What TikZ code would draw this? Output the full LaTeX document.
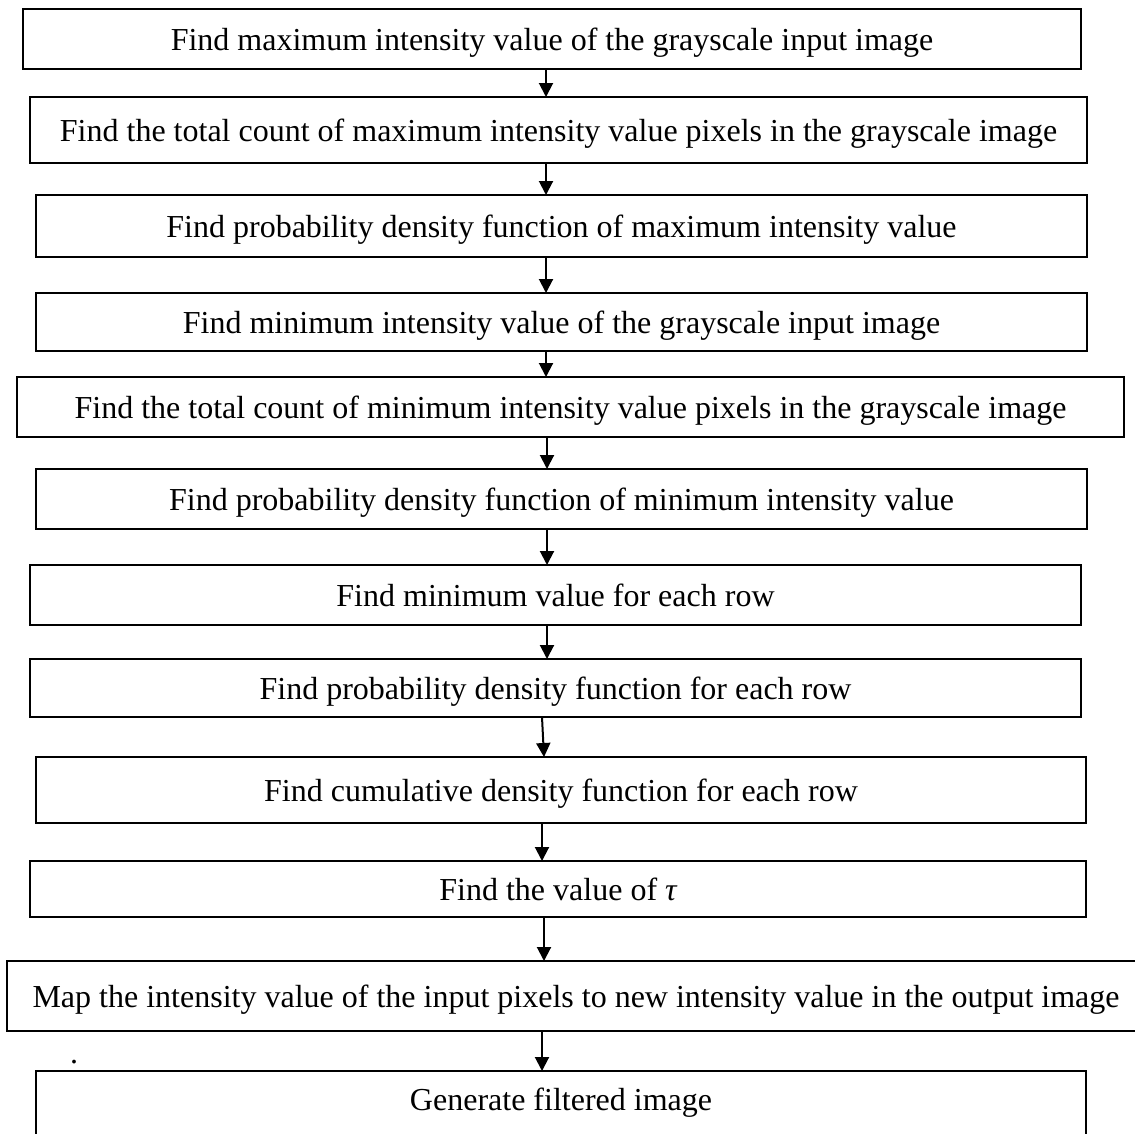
\documentclass[tikz,border=0pt]{standalone}
\usepackage{fontspec}
\setmainfont{Liberation Serif}
\usetikzlibrary{arrows.meta}
\begin{document}
\begin{tikzpicture}[x=1pt,y=-1pt,
  box/.style={draw, line width=2.2pt, inner sep=0pt, outer sep=0pt, rectangle,
    text height=22pt, text depth=0pt, font=\fontsize{32}{38}\selectfont},
  arr/.style={line width=2pt, -{Triangle[width=14pt,length=14pt]}}]
\useasboundingbox (0,0) rectangle (1135,1133);
\clip (0,0) rectangle (1135,1133);
\fill[white] (0,0) rectangle (1135,1133);
\node[box, minimum width=1058pt, minimum height=60pt] (n1) at (552,39) {Find maximum intensity value of the grayscale input image};
\node[box, minimum width=1057pt, minimum height=66pt] (n2) at (558.5,130) {Find the total count of maximum intensity value pixels in the grayscale image};
\node[box, minimum width=1051pt, minimum height=62pt] (n3) at (561.5,226) {Find probability density function of maximum intensity value};
\node[box, minimum width=1051pt, minimum height=58pt] (n4) at (561.5,322) {Find minimum intensity value of the grayscale input image};
\node[box, minimum width=1107pt, minimum height=60pt] (n5) at (570.5,407) {Find the total count of minimum intensity value pixels in the grayscale image};
\node[box, minimum width=1051pt, minimum height=60pt] (n6) at (561.5,499) {Find probability density function of minimum intensity value};
\node[box, minimum width=1051pt, minimum height=60pt] (n7) at (555.5,595) {Find minimum value for each row};
\node[box, minimum width=1051pt, minimum height=58pt] (n8) at (555.5,688) {Find probability density function for each row};
\node[box, minimum width=1050pt, minimum height=66pt] (n9) at (561,790) {Find cumulative density function for each row};
\node[box, minimum width=1056pt, minimum height=56pt] (n10) at (558,889) {Find the value of {\itshape τ}};
\node[box, minimum width=1138pt, minimum height=70pt] (n11) at (576,996) {Map the intensity value of the input pixels to new intensity value in the output image};
\node[box, minimum width=1050pt, minimum height=74pt, text depth=18pt] (n12) at (561,1108) {Generate filtered image};
\node[inner sep=0pt, font=\fontsize{32}{38}\selectfont] (dot) at (74,1062) {.};
\draw[arr] ([xshift=-6pt]n1.south) -- ([xshift=-12.5pt]n2.north);
\draw[arr] ([xshift=-12.5pt]n2.south) -- ([xshift=-15.5pt]n3.north);
\draw[arr] ([xshift=-15.5pt]n3.south) -- ([xshift=-15.5pt]n4.north);
\draw[arr] ([xshift=-15.5pt]n4.south) -- ([xshift=-24.5pt]n5.north);
\draw[arr] ([xshift=-23.5pt]n5.south) -- ([xshift=-14.5pt]n6.north);
\draw[arr] ([xshift=-14.5pt]n6.south) -- ([xshift=-8.5pt]n7.north);
\draw[arr] ([xshift=-8.5pt]n7.south) -- ([xshift=-8.5pt]n8.north);
\draw[arr] ([xshift=-13.5pt]n8.south) -- ([xshift=-17pt]n9.north);
\draw[arr] ([xshift=-19pt]n9.south) -- ([xshift=-16pt]n10.north);
\draw[arr] ([xshift=-14pt]n10.south) -- ([xshift=-32pt]n11.north);
\draw[arr] ([xshift=-34pt]n11.south) -- ([xshift=-19pt]n12.north);
\end{tikzpicture}
\end{document}
